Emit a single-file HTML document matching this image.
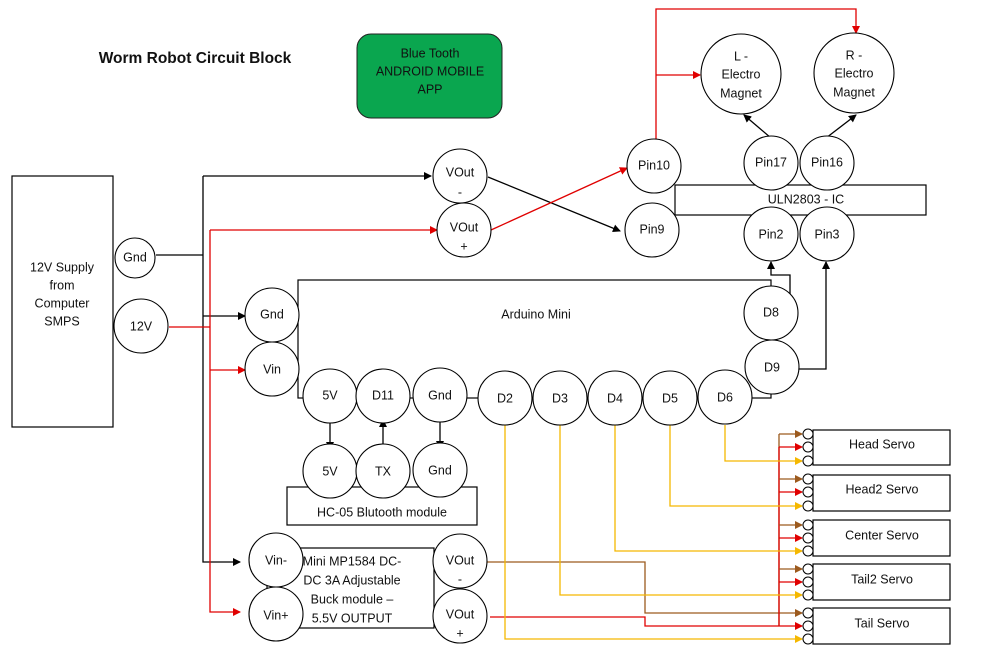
<!DOCTYPE html>
<html><head><meta charset="utf-8"><style>
body{margin:0;background:#fff}
svg{display:block}
text{font-family:"Liberation Sans",sans-serif;font-size:12.5px;fill:#111;text-anchor:middle;dominant-baseline:middle}
</style></head><body>
<svg width="997" height="663" viewBox="0 0 997 663" xmlns="http://www.w3.org/2000/svg">
<defs>
<marker id="ak" markerWidth="8" markerHeight="8" refX="7" refY="4" orient="auto" markerUnits="userSpaceOnUse"><path d="M0,0 L8,4 L0,8z" fill="#000"/></marker>
<marker id="ar" markerWidth="8" markerHeight="8" refX="7" refY="4" orient="auto" markerUnits="userSpaceOnUse"><path d="M0,0 L8,4 L0,8z" fill="#e00000"/></marker>
<marker id="ab" markerWidth="8" markerHeight="8" refX="7" refY="4" orient="auto" markerUnits="userSpaceOnUse"><path d="M0,0 L8,4 L0,8z" fill="#9c5a1e"/></marker>
<marker id="ay" markerWidth="8" markerHeight="8" refX="7" refY="4" orient="auto" markerUnits="userSpaceOnUse"><path d="M0,0 L8,4 L0,8z" fill="#f5b800"/></marker>
</defs>
<text x="195" y="59" style="font-weight:bold;font-size:15.5px">Worm Robot  Circuit Block</text>
<rect x="357" y="34" width="145" height="84" rx="14" fill="#0aa64f" stroke="#222"/>
<text x="430" y="54">Blue Tooth</text><text x="430" y="72">ANDROID MOBILE</text><text x="430" y="90">APP</text>

<g fill="none" stroke-width="1.3">
<path d="M156,255 H203" stroke="#000"/>
<path d="M203,176 V562 H240" stroke="#000" marker-end="url(#ak)"/>
<path d="M203,316 H245" stroke="#000" marker-end="url(#ak)"/>
<path d="M203,176 H431" stroke="#000" marker-end="url(#ak)"/>
<path d="M169,327 H210" stroke="#e00000"/>
<path d="M210,230 V612 H240" stroke="#e00000" marker-end="url(#ar)"/>
<path d="M210,370 H245" stroke="#e00000" marker-end="url(#ar)"/>
<path d="M210,230 H437" stroke="#e00000" marker-end="url(#ar)"/>
<path d="M488,177 L620,231" stroke="#000" marker-end="url(#ak)"/>
<path d="M491,230 L627,168" stroke="#e00000" marker-end="url(#ar)"/>
<path d="M656,139 V9 H856 V33" stroke="#e00000" marker-end="url(#ar)"/>
<path d="M656,75 H700" stroke="#e00000" marker-end="url(#ar)"/>
<path d="M771,138 L744,115" stroke="#000" marker-end="url(#ak)"/>
<path d="M826,138 L856,115" stroke="#000" marker-end="url(#ak)"/>
<path d="M790,295 V275 H771 V262" stroke="#000" marker-end="url(#ak)"/>
<path d="M798,369 H826 V262" stroke="#000" marker-end="url(#ak)"/>
<path d="M330,423 V449" stroke="#000" marker-end="url(#ak)"/>
<path d="M383,446 V420" stroke="#000" marker-end="url(#ak)"/>
<path d="M440,422 V448" stroke="#000" marker-end="url(#ak)"/>
<path d="M487,562 H645 V613 H802" stroke="#9c5a1e" marker-end="url(#ab)"/>
<path d="M490,617 H645 V626 H802" stroke="#e00000" marker-end="url(#ar)"/>
<path d="M779,626 V434" stroke="#9c5a1e"/>
<path d="M779,626 V447" stroke="#e00000"/>
<path d="M779,434 H802" stroke="#9c5a1e" marker-end="url(#ab)"/>
<path d="M779,479 H802" stroke="#9c5a1e" marker-end="url(#ab)"/>
<path d="M779,525 H802" stroke="#9c5a1e" marker-end="url(#ab)"/>
<path d="M779,569 H802" stroke="#9c5a1e" marker-end="url(#ab)"/>
<path d="M779,447 H802" stroke="#e00000" marker-end="url(#ar)"/>
<path d="M779,492 H802" stroke="#e00000" marker-end="url(#ar)"/>
<path d="M779,538 H802" stroke="#e00000" marker-end="url(#ar)"/>
<path d="M779,582 H802" stroke="#e00000" marker-end="url(#ar)"/>
<path d="M725,425 V461 H802" stroke="#f5b800" marker-end="url(#ay)"/>
<path d="M670,425 V506 H802" stroke="#f5b800" marker-end="url(#ay)"/>
<path d="M615,425 V551 H802" stroke="#f5b800" marker-end="url(#ay)"/>
<path d="M560,425 V595 H802" stroke="#f5b800" marker-end="url(#ay)"/>
<path d="M505,425 V639 H802" stroke="#f5b800" marker-end="url(#ay)"/>
</g>

<g fill="#fff" stroke="#000" stroke-width="1.2">
<rect x="12" y="176" width="101" height="251"/>
<rect x="298" y="280" width="473" height="118"/>
<rect x="287" y="487" width="190" height="38"/>
<rect x="267" y="548" width="167" height="80"/>
<rect x="675" y="185" width="251" height="30"/>
<rect x="813" y="430" width="137" height="35"/><rect x="813" y="475" width="137" height="36"/>
<rect x="813" y="520" width="137" height="36"/><rect x="813" y="564" width="137" height="36"/>
<rect x="813" y="608" width="137" height="36"/>
</g>
<g fill="#fff" stroke="#000" stroke-width="1.1">
<circle cx="135" cy="258" r="20"/><circle cx="141" cy="326" r="27"/>
<circle cx="272" cy="315" r="27"/><circle cx="272" cy="369" r="27"/>
<circle cx="330" cy="396" r="27"/><circle cx="383" cy="396" r="27"/><circle cx="440" cy="395" r="27"/>
<circle cx="505" cy="398" r="27"/><circle cx="560" cy="398" r="27"/><circle cx="615" cy="398" r="27"/>
<circle cx="670" cy="398" r="27"/><circle cx="725" cy="397" r="27"/>
<circle cx="771" cy="313" r="27"/><circle cx="772" cy="367" r="27"/>
<circle cx="330" cy="471" r="27"/><circle cx="383" cy="471" r="27"/><circle cx="440" cy="470" r="27"/>
<circle cx="276" cy="560" r="27"/><circle cx="276" cy="614" r="27"/>
<circle cx="460" cy="561" r="27"/><circle cx="460" cy="616" r="27"/>
<circle cx="460" cy="176" r="27"/><circle cx="464" cy="230" r="27"/>
<circle cx="654" cy="166" r="27"/><circle cx="652" cy="230" r="27"/>
<circle cx="771" cy="163" r="27"/><circle cx="827" cy="163" r="27"/>
<circle cx="771" cy="234" r="27"/><circle cx="827" cy="234" r="27"/>
<circle cx="741" cy="74" r="40"/><circle cx="854" cy="73" r="40"/>
</g>
<g fill="#fff" stroke="#000" stroke-width="1">
<circle cx="808" cy="434" r="5"/><circle cx="808" cy="447" r="5"/><circle cx="808" cy="461" r="5"/>
<circle cx="808" cy="479" r="5"/><circle cx="808" cy="492" r="5"/><circle cx="808" cy="506" r="5"/>
<circle cx="808" cy="525" r="5"/><circle cx="808" cy="538" r="5"/><circle cx="808" cy="551" r="5"/>
<circle cx="808" cy="569" r="5"/><circle cx="808" cy="582" r="5"/><circle cx="808" cy="595" r="5"/>
<circle cx="808" cy="613" r="5"/><circle cx="808" cy="626" r="5"/><circle cx="808" cy="639" r="5"/>
</g>
<text x="62" y="268">12V Supply</text><text x="62" y="286">from</text><text x="62" y="304">Computer</text><text x="62" y="322">SMPS</text>
<text x="135" y="258">Gnd</text><text x="141" y="327">12V</text>
<text x="272" y="315">Gnd</text><text x="272" y="370">Vin</text>
<text x="536" y="315">Arduino Mini</text>
<text x="330" y="396">5V</text><text x="383" y="396">D11</text><text x="440" y="396">Gnd</text>
<text x="505" y="399">D2</text><text x="560" y="399">D3</text><text x="615" y="399">D4</text><text x="670" y="399">D5</text><text x="725" y="398">D6</text>
<text x="771" y="313">D8</text><text x="772" y="368">D9</text>
<text x="330" y="472">5V</text><text x="383" y="472">TX</text><text x="440" y="471">Gnd</text>
<text x="382" y="513">HC-05 Blutooth module</text>
<text x="276" y="561">Vin-</text><text x="276" y="616">Vin+</text>
<text x="352" y="562">Mini MP1584  DC-</text><text x="352" y="581">DC 3A Adjustable</text><text x="352" y="600">Buck module –</text><text x="352" y="619">5.5V OUTPUT</text>
<text x="460" y="561">VOut</text><text x="460" y="580">-</text>
<text x="460" y="615">VOut</text><text x="460" y="634">+</text>
<text x="460" y="173">VOut</text><text x="460" y="193">-</text>
<text x="464" y="228">VOut</text><text x="464" y="247">+</text>
<text x="654" y="166">Pin10</text><text x="652" y="230">Pin9</text>
<text x="771" y="163">Pin17</text><text x="827" y="163">Pin16</text>
<text x="771" y="235">Pin2</text><text x="827" y="235">Pin3</text>
<text x="806" y="200">ULN2803  - IC</text>
<text x="741" y="57">L -</text><text x="741" y="75">Electro</text><text x="741" y="94">Magnet</text>
<text x="854" y="56">R -</text><text x="854" y="74">Electro</text><text x="854" y="93">Magnet</text>
<text x="882" y="445">Head Servo</text><text x="882" y="490">Head2 Servo</text><text x="882" y="536">Center Servo</text>
<text x="882" y="580">Tail2 Servo</text><text x="882" y="624">Tail Servo</text>
</svg>
</body></html>
